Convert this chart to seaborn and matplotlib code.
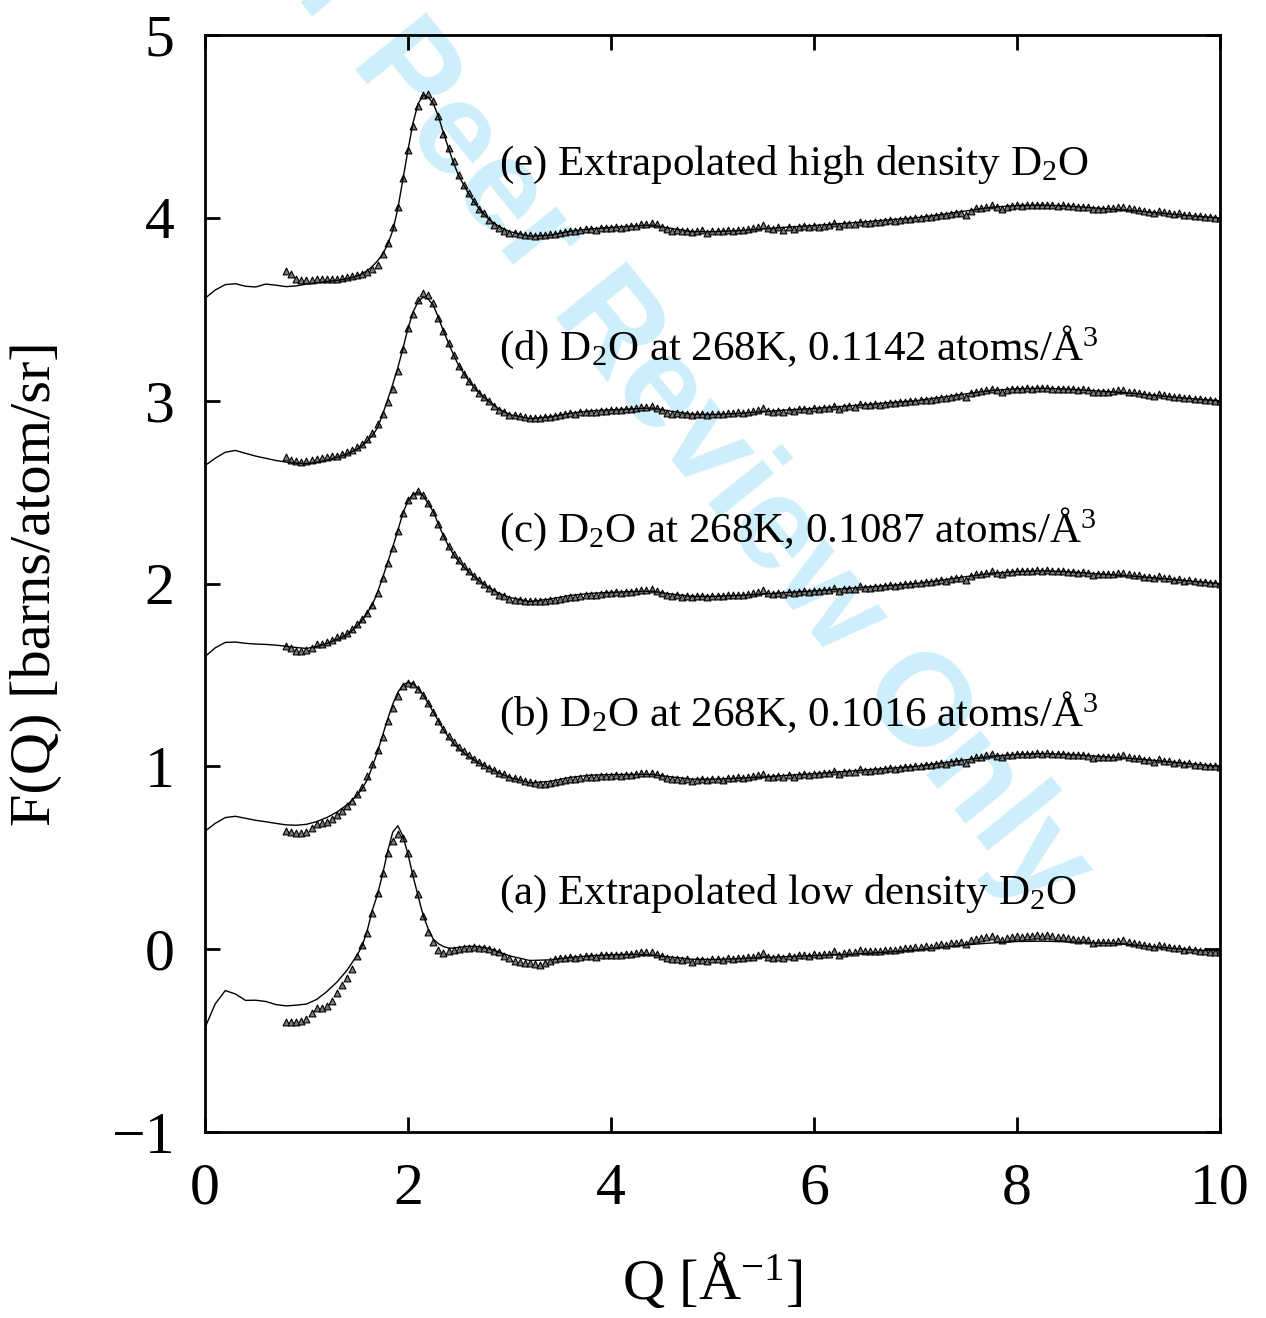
import numpy as np
import pandas as pd
import matplotlib
matplotlib.use("Agg")
import matplotlib.pyplot as plt
import seaborn as sns

# ---------------- data ----------------
# Q grid for the fitted (smooth) curves
LINE_Q = [0.0, 0.1, 0.2, 0.3, 0.4, 0.5, 0.6, 0.7, 0.8, 0.9, 1.0, 1.1, 1.2, 1.3, 1.4, 1.5,
          1.55, 1.6, 1.65, 1.7, 1.75, 1.8, 1.85, 1.9, 1.95, 2.0, 2.05, 2.1, 2.15, 2.2, 2.25,
          2.3, 2.35, 2.4, 2.45, 2.5, 2.6, 2.7, 2.8, 2.9, 3.0, 3.2, 3.4, 3.6, 3.8, 4.0, 4.2,
          4.4, 4.6, 4.8, 5.0, 5.25, 5.5, 5.75, 6.0, 6.25, 6.5, 6.75, 7.0, 7.25, 7.5, 7.75,
          8.0, 8.25, 8.5, 8.75, 9.0, 9.25, 9.5, 9.75, 10.0]

line_e = [3.56, 3.605, 3.635, 3.64, 3.626, 3.622, 3.638, 3.632, 3.624, 3.628, 3.638, 3.645,
          3.652, 3.658, 3.666, 3.682, 3.695, 3.712, 3.735, 3.765, 3.80, 3.855, 3.93, 4.05,
          4.21, 4.37, 4.52, 4.625, 4.67, 4.66, 4.625, 4.555, 4.465, 4.38, 4.30, 4.23, 4.13,
          4.05, 3.99, 3.952, 3.925, 3.90, 3.905, 3.928, 3.94, 3.948, 3.955, 3.96, 3.942,
          3.925, 3.925, 3.93, 3.94, 3.95, 3.958, 3.968, 3.978, 3.99, 4.00, 4.018, 4.038,
          4.058, 4.068, 4.07, 4.065, 4.055, 4.045, 4.035, 4.022, 4.01, 4.0]
line_d = [2.645, 2.685, 2.718, 2.728, 2.712, 2.697, 2.685, 2.673, 2.664, 2.658, 2.656, 2.663,
          2.675, 2.69, 2.708, 2.735, 2.755, 2.78, 2.81, 2.852, 2.925, 3.005, 3.09, 3.18,
          3.285, 3.395, 3.485, 3.542, 3.566, 3.556, 3.522, 3.455, 3.38, 3.315, 3.25, 3.192,
          3.108, 3.042, 2.995, 2.953, 2.925, 2.902, 2.912, 2.932, 2.944, 2.95, 2.955, 2.96,
          2.942, 2.926, 2.925, 2.93, 2.94, 2.95, 2.958, 2.968, 2.978, 2.99, 3.0, 3.018,
          3.038, 3.056, 3.066, 3.068, 3.064, 3.055, 3.046, 3.035, 3.022, 3.01, 3.0]
line_c = [1.60, 1.648, 1.678, 1.68, 1.673, 1.669, 1.667, 1.663, 1.657, 1.65, 1.645, 1.655,
          1.672, 1.694, 1.72, 1.768, 1.80, 1.84, 1.885, 1.952, 2.032, 2.115, 2.20, 2.29,
          2.385, 2.452, 2.488, 2.499, 2.48, 2.438, 2.392, 2.325, 2.26, 2.205, 2.158, 2.12,
          2.062, 2.015, 1.976, 1.946, 1.924, 1.902, 1.915, 1.935, 1.946, 1.952, 1.956,
          1.958, 1.942, 1.93, 1.93, 1.935, 1.942, 1.952, 1.96, 1.97, 1.98, 1.99, 2.0,
          2.018, 2.038, 2.056, 2.066, 2.07, 2.065, 2.055, 2.046, 2.036, 2.024, 2.012, 2.0]
line_b = [0.645, 0.688, 0.72, 0.727, 0.716, 0.705, 0.697, 0.688, 0.68, 0.678, 0.683, 0.698,
          0.72, 0.75, 0.79, 0.842, 0.88, 0.928, 1.0, 1.08, 1.17, 1.258, 1.34, 1.405, 1.445,
          1.46, 1.452, 1.426, 1.39, 1.345, 1.297, 1.248, 1.2, 1.16, 1.125, 1.097, 1.052,
          1.018, 0.99, 0.963, 0.94, 0.91, 0.918, 0.94, 0.952, 0.955, 0.956, 0.956, 0.942,
          0.93, 0.93, 0.935, 0.942, 0.952, 0.96, 0.97, 0.98, 0.99, 1.0, 1.018, 1.036,
          1.055, 1.066, 1.07, 1.066, 1.057, 1.048, 1.038, 1.025, 1.012, 1.0]
line_a = [-0.43, -0.30, -0.226, -0.245, -0.28, -0.279, -0.286, -0.303, -0.31, -0.306, -0.30,
          -0.275, -0.232, -0.18, -0.115, -0.032, 0.02, 0.105, 0.215, 0.30, 0.41, 0.535,
          0.64, 0.675, 0.62, 0.52, 0.40, 0.29, 0.185, 0.11, 0.055, 0.03, 0.015, 0.006,
          0.006, 0.01, 0.016, 0.014, 0.004, -0.016, -0.036, -0.062, -0.058, -0.045, -0.036,
          -0.03, -0.028, -0.032, -0.044, -0.055, -0.056, -0.052, -0.046, -0.04, -0.035,
          -0.03, -0.024, -0.015, -0.005, 0.01, 0.024, 0.034, 0.042, 0.044, 0.04, 0.035,
          0.03, 0.018, 0.006, -0.004, -0.01]

# Q grid of the measured points (triangles): 0.80 ... 10.00 every 0.05
DATA_Q_START, DATA_Q_STOP, DATA_Q_STEP = 0.80, 10.0, 0.05

data_e = [3.707, 3.694, 3.668, 3.662, 3.662, 3.663, 3.664, 3.664, 3.666, 3.667, 3.668, 3.671,
          3.675, 3.680, 3.688, 3.694, 3.702, 3.718, 3.745, 3.80, 3.86, 3.95, 4.06, 4.22,
          4.37, 4.50, 4.61, 4.67, 4.68, 4.64, 4.56, 4.46, 4.38, 4.31, 4.235, 4.18, 4.135,
          4.09, 4.05, 4.025, 3.99, 3.962, 3.945, 3.93, 3.92,
          3.918, 3.912, 3.908, 3.905, 3.903, 3.904, 3.906, 3.910, 3.914, 3.920,
          3.925, 3.930, 3.928, 3.934, 3.937, 3.940, 3.936, 3.944, 3.942, 3.946,
          3.948, 3.946, 3.952, 3.954, 3.958, 3.964, 3.968, 3.972, 3.966, 3.952,
          3.938, 3.930, 3.934, 3.926, 3.930, 3.922, 3.928, 3.932, 3.920, 3.928,
          3.930, 3.926, 3.935, 3.930, 3.936, 3.932, 3.940, 3.946, 3.952, 3.960,
          3.944, 3.940, 3.948, 3.936, 3.948, 3.940, 3.950, 3.954, 3.948, 3.956,
          3.952, 3.958, 3.962, 3.974, 3.954, 3.964, 3.968, 3.966, 3.980, 3.974,
          3.974, 3.978, 3.976, 3.982, 3.986, 3.984, 3.990, 3.994, 3.996, 4.000,
          4.002, 4.004, 4.006, 4.010, 4.014, 4.016, 4.020, 4.024, 4.028, 4.016,
          4.040, 4.052, 4.054, 4.062, 4.068, 4.060, 4.050, 4.062, 4.064, 4.068,
          4.066, 4.070, 4.068, 4.072, 4.070, 4.072, 4.068, 4.066, 4.068, 4.064,
          4.064, 4.062, 4.060, 4.058, 4.046, 4.050, 4.048, 4.052, 4.054, 4.058,
          4.062, 4.052, 4.048, 4.044, 4.038, 4.032, 4.026, 4.040, 4.032, 4.028,
          4.022, 4.024, 4.016, 4.018, 4.012, 4.010, 4.006, 4.004, 4.002, 4.000]
data_d = [2.692, 2.677, 2.668, 2.665, 2.668, 2.677, 2.680, 2.686, 2.690, 2.695, 2.700, 2.710,
          2.717, 2.728, 2.745, 2.765, 2.790, 2.823, 2.870, 2.930, 2.995, 3.066, 3.163, 3.285,
          3.395, 3.473, 3.550, 3.587, 3.580, 3.535, 3.450, 3.380, 3.316, 3.252, 3.192, 3.146,
          3.106, 3.075, 3.042, 3.020, 2.997, 2.973, 2.951, 2.937, 2.924,
          2.920, 2.915, 2.910, 2.908, 2.905, 2.905, 2.910, 2.912, 2.918, 2.922,
          2.928, 2.932, 2.930, 2.936, 2.938, 2.940, 2.938, 2.945, 2.944, 2.948,
          2.950, 2.948, 2.954, 2.955, 2.960, 2.965, 2.968, 2.970, 2.962, 2.950,
          2.935, 2.930, 2.932, 2.925, 2.928, 2.920, 2.926, 2.930, 2.922, 2.928,
          2.930, 2.928, 2.934, 2.932, 2.938, 2.934, 2.940, 2.944, 2.950, 2.958,
          2.942, 2.940, 2.946, 2.938, 2.950, 2.942, 2.952, 2.955, 2.950, 2.958,
          2.954, 2.960, 2.962, 2.972, 2.955, 2.966, 2.970, 2.968, 2.982, 2.975,
          2.976, 2.980, 2.978, 2.984, 2.988, 2.986, 2.992, 2.994, 2.998, 3.000,
          3.002, 3.006, 3.004, 3.012, 3.016, 3.014, 3.022, 3.026, 3.030, 3.018,
          3.040, 3.050, 3.052, 3.060, 3.065, 3.058, 3.048, 3.060, 3.062, 3.066,
          3.064, 3.068, 3.066, 3.070, 3.068, 3.072, 3.066, 3.064, 3.066, 3.062,
          3.064, 3.060, 3.062, 3.058, 3.046, 3.050, 3.048, 3.050, 3.052, 3.056,
          3.060, 3.050, 3.046, 3.044, 3.036, 3.032, 3.025, 3.038, 3.030, 3.026,
          3.020, 3.022, 3.014, 3.016, 3.010, 3.008, 3.004, 3.002, 3.000, 2.998]
data_c = [1.661, 1.648, 1.630, 1.630, 1.634, 1.648, 1.667, 1.672, 1.679, 1.690, 1.707, 1.718,
          1.730, 1.752, 1.776, 1.807, 1.840, 1.885, 1.949, 2.031, 2.113, 2.195, 2.286, 2.386,
          2.459, 2.486, 2.505, 2.486, 2.440, 2.390, 2.323, 2.259, 2.208, 2.164, 2.128, 2.095,
          2.068, 2.040, 2.018, 1.995, 1.976, 1.958, 1.940, 1.931, 1.916,
          1.912, 1.908, 1.905, 1.903, 1.902, 1.902, 1.905, 1.908, 1.912, 1.917,
          1.922, 1.928, 1.926, 1.934, 1.936, 1.940, 1.937, 1.944, 1.946, 1.950,
          1.952, 1.950, 1.955, 1.956, 1.960, 1.964, 1.966, 1.968, 1.960, 1.950,
          1.938, 1.932, 1.935, 1.928, 1.932, 1.924, 1.930, 1.934, 1.926, 1.932,
          1.934, 1.930, 1.938, 1.936, 1.940, 1.937, 1.944, 1.948, 1.954, 1.962,
          1.946, 1.944, 1.950, 1.942, 1.953, 1.946, 1.955, 1.958, 1.953, 1.960,
          1.957, 1.962, 1.965, 1.975, 1.958, 1.968, 1.972, 1.970, 1.984, 1.977,
          1.978, 1.982, 1.980, 1.986, 1.990, 1.988, 1.994, 1.996, 2.000, 2.002,
          2.004, 2.008, 2.006, 2.014, 2.018, 2.016, 2.024, 2.028, 2.032, 2.020,
          2.042, 2.050, 2.054, 2.060, 2.066, 2.060, 2.050, 2.062, 2.064, 2.068,
          2.066, 2.070, 2.068, 2.072, 2.070, 2.074, 2.068, 2.066, 2.068, 2.064,
          2.064, 2.060, 2.062, 2.058, 2.048, 2.052, 2.050, 2.052, 2.054, 2.058,
          2.060, 2.052, 2.048, 2.046, 2.038, 2.034, 2.028, 2.040, 2.032, 2.028,
          2.022, 2.024, 2.016, 2.018, 2.012, 2.010, 2.006, 2.004, 2.002, 2.000]
data_b = [0.647, 0.641, 0.638, 0.638, 0.641, 0.665, 0.683, 0.689, 0.696, 0.710, 0.732, 0.756,
          0.783, 0.811, 0.847, 0.888, 0.948, 1.011, 1.090, 1.163, 1.248, 1.321, 1.385, 1.439,
          1.457, 1.448, 1.424, 1.393, 1.348, 1.297, 1.248, 1.202, 1.166, 1.133, 1.108, 1.084,
          1.060, 1.042, 1.024, 1.006, 0.993, 0.978, 0.966, 0.957, 0.944,
          0.938, 0.930, 0.922, 0.915, 0.910, 0.906, 0.906, 0.910, 0.914, 0.920,
          0.926, 0.932, 0.930, 0.938, 0.940, 0.944, 0.940, 0.948, 0.946, 0.950,
          0.952, 0.950, 0.954, 0.955, 0.958, 0.962, 0.965, 0.966, 0.958, 0.948,
          0.936, 0.930, 0.933, 0.926, 0.930, 0.922, 0.928, 0.932, 0.924, 0.930,
          0.932, 0.928, 0.936, 0.934, 0.940, 0.936, 0.942, 0.946, 0.952, 0.960,
          0.944, 0.942, 0.948, 0.940, 0.952, 0.944, 0.954, 0.957, 0.952, 0.960,
          0.956, 0.962, 0.964, 0.974, 0.957, 0.968, 0.971, 0.969, 0.983, 0.976,
          0.977, 0.981, 0.979, 0.985, 0.989, 0.987, 0.993, 0.995, 0.999, 1.001,
          1.003, 1.007, 1.005, 1.013, 1.017, 1.015, 1.023, 1.027, 1.031, 1.019,
          1.041, 1.050, 1.053, 1.060, 1.066, 1.059, 1.049, 1.061, 1.063, 1.067,
          1.065, 1.069, 1.067, 1.071, 1.069, 1.073, 1.067, 1.065, 1.067, 1.063,
          1.064, 1.060, 1.062, 1.058, 1.047, 1.051, 1.049, 1.051, 1.053, 1.057,
          1.060, 1.051, 1.047, 1.045, 1.037, 1.033, 1.026, 1.039, 1.031, 1.027,
          1.021, 1.022, 1.015, 1.016, 1.010, 1.008, 1.004, 1.002, 1.000, 0.998]
data_a = [-0.400, -0.400, -0.397, -0.392, -0.383, -0.350, -0.324, -0.319, -0.310, -0.282,
          -0.237, -0.197, -0.160, -0.109, -0.036, 0.022, 0.091, 0.200, 0.310, 0.419, 0.528,
          0.590, 0.628, 0.610, 0.528, 0.419, 0.300, 0.182, 0.095, 0.040, -0.004, -0.022,
          -0.009, -0.004, 0.000, 0.004, 0.007, 0.011, 0.009, 0.004, 0.000, -0.009, -0.018,
          -0.036, -0.050,
          -0.064, -0.069, -0.073, -0.077, -0.082, -0.084, -0.077, -0.064, -0.055, -0.050,
          -0.048, -0.044, -0.046, -0.040, -0.038, -0.036, -0.040, -0.032, -0.034, -0.030,
          -0.030, -0.032, -0.026, -0.028, -0.022, -0.018, -0.015, -0.016, -0.024, -0.036,
          -0.048, -0.055, -0.052, -0.060, -0.056, -0.068, -0.060, -0.058, -0.064, -0.056,
          -0.055, -0.058, -0.050, -0.054, -0.046, -0.050, -0.044, -0.040, -0.030, -0.022,
          -0.042, -0.046, -0.040, -0.048, -0.036, -0.044, -0.034, -0.030, -0.036, -0.028,
          -0.032, -0.026, -0.024, -0.012, -0.030, -0.020, -0.016, -0.018, -0.004, -0.012,
          -0.012, -0.008, -0.010, -0.004, -0.002, -0.004, 0.002, 0.004, 0.008, 0.010,
          0.012, 0.016, 0.014, 0.022, 0.026, 0.024, 0.032, 0.036, 0.040, 0.028,
          0.050, 0.058, 0.060, 0.066, 0.070, 0.062, 0.052, 0.064, 0.066, 0.070,
          0.068, 0.072, 0.070, 0.075, 0.072, 0.076, 0.070, 0.066, 0.068, 0.060,
          0.058, 0.052, 0.054, 0.050, 0.036, 0.040, 0.038, 0.040, 0.042, 0.046,
          0.050, 0.040, 0.034, 0.030, 0.022, 0.018, 0.010, 0.024, 0.016, 0.010,
          0.004, 0.006, -0.002, 0.000, -0.006, -0.008, -0.012, -0.014, -0.016, -0.018]

CURVES = ["a", "b", "c", "d", "e"]
LINES = {"a": line_a, "b": line_b, "c": line_c, "d": line_d, "e": line_e}
POINTS = {"a": data_a, "b": data_b, "c": data_c, "d": data_d, "e": data_e}

LABELS = [
    "(e) Extrapolated high density D$_2$O",
    "(d) D$_2$O at 268K, 0.1142 atoms/Å$^3$",
    "(c) D$_2$O at 268K, 0.1087 atoms/Å$^3$",
    "(b) D$_2$O at 268K, 0.1016 atoms/Å$^3$",
    "(a) Extrapolated low density D$_2$O",
]
LABEL_Y = [4.235, 3.225, 2.225, 1.22, 0.245]
LABEL_X = 2.9

X_TICKS = [0, 2, 4, 6, 8, 10]
Y_TICKS = [-1, 0, 1, 2, 3, 4, 5]

# ---------------- build tables ----------------
data_q = np.round(np.arange(DATA_Q_START, DATA_Q_STOP + 1e-9, DATA_Q_STEP), 2)
line_frames, pt_frames = [], []
for c in CURVES:
    assert len(LINES[c]) == len(LINE_Q), (c, len(LINES[c]))
    assert len(POINTS[c]) == len(data_q), (c, len(POINTS[c]))
    line_frames.append(pd.DataFrame({"Q": LINE_Q, "F": LINES[c], "curve": c}))
    pt_frames.append(pd.DataFrame({"Q": data_q, "F": POINTS[c], "curve": c}))
line_df = pd.concat(line_frames, ignore_index=True)
pt_df = pd.concat(pt_frames, ignore_index=True)

# ---------------- style ----------------
sns.set_theme(style="ticks")
plt.rcParams["font.family"] = ["Liberation Serif", "DejaVu Serif"]
plt.rcParams["mathtext.fontset"] = "custom"
plt.rcParams["mathtext.rm"] = "Liberation Serif"
plt.rcParams["mathtext.it"] = "Liberation Serif:italic"
plt.rcParams["mathtext.bf"] = "Liberation Serif:bold"
plt.rcParams["axes.unicode_minus"] = True
plt.rcParams["text.color"] = "black"
plt.rcParams["axes.labelcolor"] = "black"
plt.rcParams["xtick.color"] = "black"
plt.rcParams["ytick.color"] = "black"

fig = plt.figure(figsize=(12.66, 13.18), dpi=100)
fig.patch.set_facecolor("white")
ax = fig.add_axes([0.1619, 0.1411, 0.8017, 0.8323])
ax.set_facecolor("none")

# watermark
fig.text(0.508, 0.7185, "For Peer Review Only", rotation=-51, rotation_mode="anchor",
         ha="center", va="center", fontsize=94, fontweight="bold",
         family="Liberation Sans", color="#cdeefb", zorder=-1)

sns.scatterplot(data=pt_df, x="Q", y="F", marker="^", s=24, color="#7a7a7a",
                edgecolor="black", linewidth=0.8, legend=False, ax=ax, zorder=2)
sns.lineplot(data=line_df, x="Q", y="F", units="curve", estimator=None, color="black",
             linewidth=1.0, legend=False, ax=ax, zorder=3)

for txt, y in zip(LABELS, LABEL_Y):
    ax.text(LABEL_X, y, txt, fontsize=31, ha="left", va="baseline", color="black", zorder=4)

ax.set_xlim(0, 10)
ax.set_ylim(-1, 5)
ax.set_xticks(X_TICKS)
ax.set_yticks(Y_TICKS)
ax.tick_params(direction="in", length=11, width=2, top=True, right=True,
               labelsize=43, pad=22, colors="black")
for sp in ax.spines.values():
    sp.set_linewidth(2)
    sp.set_color("black")
    sp.set_visible(True)

ax.set_xlabel("Q [Å$^{-1}$]", fontsize=42, color="black")
ax.set_ylabel("F(Q) [barns/atom/sr]", fontsize=42, color="black")
ax.xaxis.set_label_coords(0.5, -0.108)
ax.yaxis.set_label_coords(-0.141, 0.5)

fig.savefig("out.png", dpi=100, facecolor="white")
